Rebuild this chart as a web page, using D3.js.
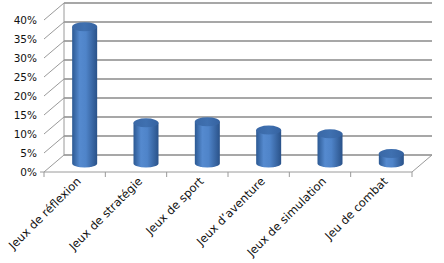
<!DOCTYPE html>
<html>
<head>
<meta charset="utf-8">
<script src="https://cdn.jsdelivr.net/npm/d3@7"></script>
<style>
  body { margin: 0; background: #fff; }
  text { font-family: "DejaVu Sans", Verdana, sans-serif; font-size: 10.5px; fill: #111; }
  .cat { font-size: 11.5px; }
</style>
</head>
<body>
<script>
var width = 444,
    height = 263;

var categories = ["Jeux de réflexion", "Jeux de stratégie", "Jeux de sport",
                  "Jeux d’aventure", "Jeux de simulation", "Jeu de combat"];
var values = [0.36, 0.107, 0.11, 0.088, 0.078, 0.026];
var ticks = [0, 0.05, 0.10, 0.15, 0.20, 0.25, 0.30, 0.35, 0.40];

// depth shift of the back wall
var dx = 20, dy = -17;

var svg = d3.select("body").append("svg")
    .attr("width", width)
    .attr("height", height);

var x = d3.scaleBand().domain(categories).range([44, 412]).padding(0);
var y = d3.scaleLinear().domain([0, 0.4]).range([172, 20]);

var defs = svg.append("defs");
var grad = defs.append("linearGradient").attr("id", "cyl")
    .attr("x1", "0%").attr("x2", "100%").attr("y1", "0%").attr("y2", "0%");
grad.append("stop").attr("offset", "0%").attr("stop-color", "#2c5993");
grad.append("stop").attr("offset", "30%").attr("stop-color", "#558acf");
grad.append("stop").attr("offset", "55%").attr("stop-color", "#4f84c9");
grad.append("stop").attr("offset", "100%").attr("stop-color", "#2a5289");

var topGrad = defs.append("linearGradient").attr("id", "cyltop")
    .attr("x1", "0%").attr("x2", "100%").attr("y1", "0%").attr("y2", "0%");
topGrad.append("stop").attr("offset", "0%").attr("stop-color", "#3a68a6");
topGrad.append("stop").attr("offset", "50%").attr("stop-color", "#3f70b0");
topGrad.append("stop").attr("offset", "100%").attr("stop-color", "#3562a0");

var x0 = x.range()[0], x1 = x.range()[1];

// back wall gridlines
svg.append("g").selectAll("line")
    .data(ticks)
    .enter().append("line")
    .attr("x1", x0 + dx).attr("x2", x1 + dx)
    .attr("y1", function (d) { return y(d) + dy; })
    .attr("y2", function (d) { return y(d) + dy; })
    .attr("stroke", "#8a8a8a").attr("stroke-width", 1.3);

// left wall diagonals
svg.append("g").selectAll("line")
    .data(ticks)
    .enter().append("line")
    .attr("x1", x0).attr("x2", x0 + dx)
    .attr("y1", function (d) { return y(d); })
    .attr("y2", function (d) { return y(d) + dy; })
    .attr("stroke", "#9a9a9a").attr("stroke-width", 1);

// back left edge
svg.append("line")
    .attr("x1", x0 + dx).attr("x2", x0 + dx)
    .attr("y1", y(0.4) + dy).attr("y2", y(0) + dy)
    .attr("stroke", "#9a9a9a");

// floor front edge + right diagonal
svg.append("line")
    .attr("x1", x0).attr("x2", x1)
    .attr("y1", y(0)).attr("y2", y(0))
    .attr("stroke", "#9a9a9a").attr("stroke-width", 1);
svg.append("line")
    .attr("x1", x1).attr("x2", x1 + dx)
    .attr("y1", y(0)).attr("y2", y(0) + dy)
    .attr("stroke", "#9a9a9a");

// category ticks
svg.append("g").selectAll("line")
    .data(categories.concat(["end"]))
    .enter().append("line")
    .attr("x1", function (d, i) { return x0 + i * x.bandwidth(); })
    .attr("x2", function (d, i) { return x0 + i * x.bandwidth(); })
    .attr("y1", y(0)).attr("y2", y(0) + 5)
    .attr("stroke", "#9a9a9a");

// value tick at 0
svg.append("line")
    .attr("x1", x0 - 4).attr("x2", x0)
    .attr("y1", y(0)).attr("y2", y(0))
    .attr("stroke", "#9a9a9a");

// y labels
svg.append("g").selectAll("text")
    .data(ticks)
    .enter().append("text")
    .attr("x", 37)
    .attr("y", function (d) { return y(d) + 4; })
    .attr("text-anchor", "end")
    .text(function (d) { return Math.round(d * 100) + "%"; });

// cylinders
var cw = 25, rx = cw / 2, ry = 4;
var bars = svg.append("g").selectAll("g")
    .data(values)
    .enter().append("g");

bars.append("path")
    .attr("fill", "url(#cyl)")
    .attr("d", function (d, i) {
        var cx = x(categories[i]) + x.bandwidth() / 2 + dx / 2;
        var yb = y(0) + dy / 2, yt = y(d) + dy / 2;
        return "M" + (cx - rx) + "," + yb +
            "L" + (cx - rx) + "," + yt +
            "L" + (cx + rx) + "," + yt +
            "L" + (cx + rx) + "," + yb +
            "A" + rx + "," + ry + " 0 0 1 " + (cx - rx) + "," + yb + "Z";
    });

bars.append("ellipse")
    .attr("cx", function (d, i) { return x(categories[i]) + x.bandwidth() / 2 + dx / 2; })
    .attr("cy", function (d) { return y(d) + dy / 2; })
    .attr("rx", rx).attr("ry", ry + 0.5)
    .attr("fill", "url(#cyltop)");

// category labels
svg.append("g").selectAll("text")
    .data(categories)
    .enter().append("text")
    .attr("class", "cat")
    .attr("text-anchor", "end")
    .attr("transform", function (d) {
        var tx = x(d) + x.bandwidth() / 2 + 7;
        return "translate(" + tx + "," + 182 + ") rotate(-45)";
    })
    .text(function (d) { return d; });
</script>
</body>
</html>
